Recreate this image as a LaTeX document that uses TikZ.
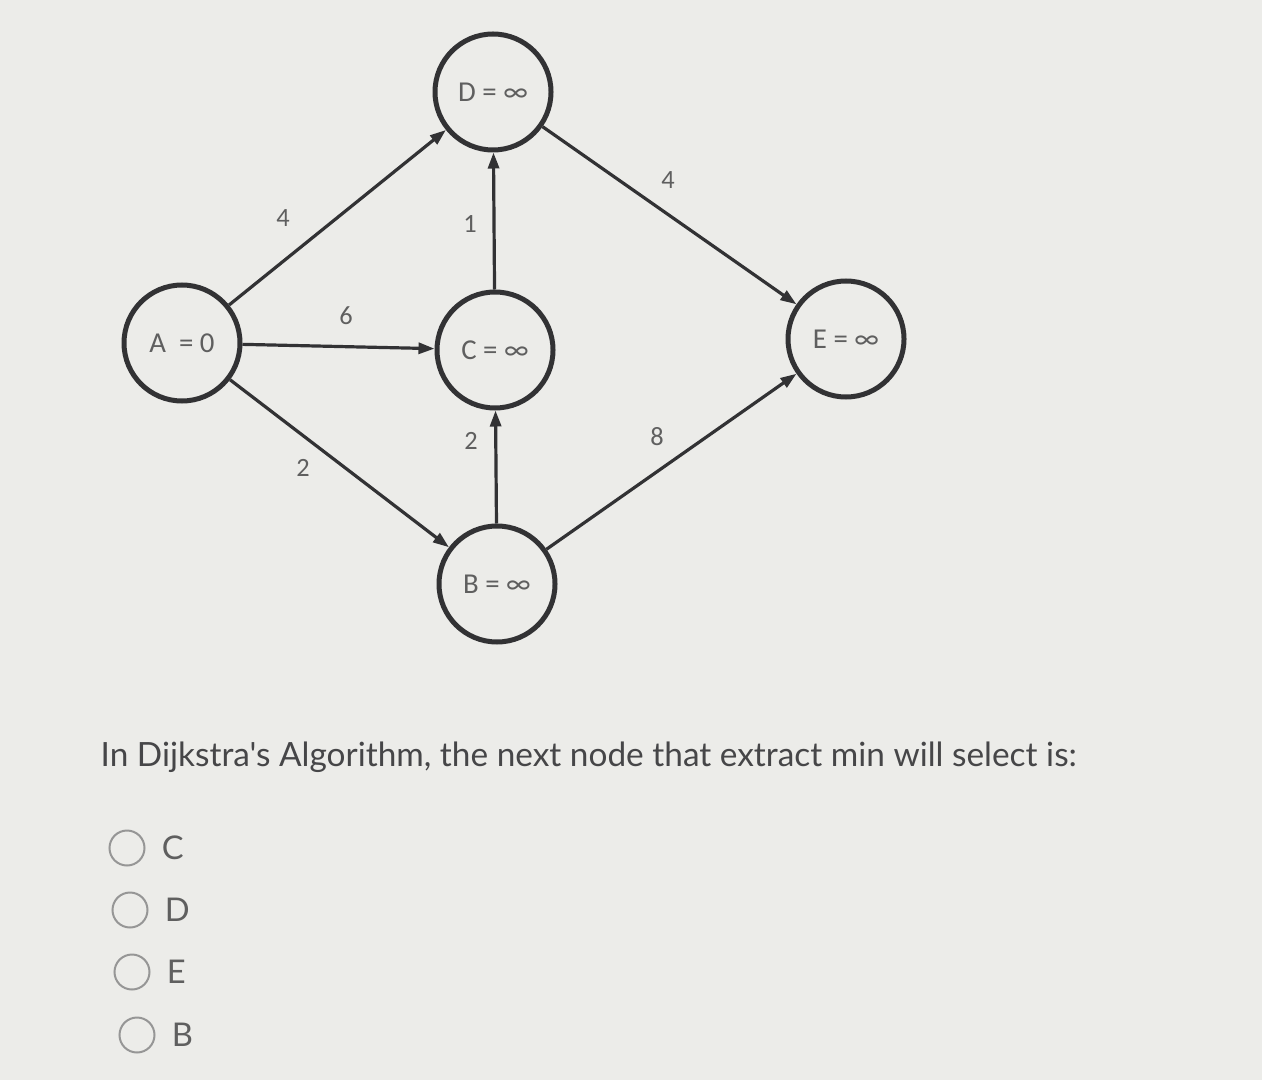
\documentclass[tikz,border=0pt]{standalone}
\usepackage{fontspec}
\setmainfont{Lato}[Ligatures=TeXOff]
\newfontfamily\nodefont{Carlito}
\usetikzlibrary{arrows.meta, positioning}
\definecolor{paper}{RGB}{236, 236, 233}
\definecolor{ink}{RGB}{50, 50, 52}
\definecolor{txt}{RGB}{95, 95, 95}
\definecolor{optgray}{RGB}{150, 150, 150}

\tikzset{
  vertex/.style={circle, draw=ink, line width=0.5mm,
                 minimum size=11.6mm, inner sep=0pt,
                 font=\nodefont\fontsize{8.2}{9}\selectfont, text=txt},
  edge/.style={-{Triangle[length=1.6mm, width=1.1mm]}, draw=ink, line width=0.32mm},
  weight/.style={font=\nodefont\fontsize{7.5}{9}\selectfont, text=txt},
  option/.style={circle, draw=optgray, line width=0.2mm, minimum size=3.5mm, inner sep=0pt},
  optlabel/.style={font=\fontsize{9.3}{11}\selectfont, text=txt, anchor=west}
}

\begin{document}
\begin{tikzpicture}
  % background and frame
  \fill[paper] (0,0) rectangle (12.62,-10.80);
  \useasboundingbox (0,0) rectangle (12.62,-10.80);

  % graph vertices
  \node[vertex] (A) at (1.82,-3.43) {A \ = 0};
  \node[vertex] (D) at (4.93,-0.92) {D = ∞};
  \node[vertex] (C) at (4.95,-3.50) {C = ∞};
  \node[vertex] (B) at (4.97,-5.84) {B = ∞};
  \node[vertex] (E) at (8.46,-3.39) {E = ∞};

  % weighted edges
  \draw[edge] (A) -- (D);
  \draw[edge] (A) -- (C);
  \draw[edge] (A) -- (B);
  \draw[edge] (C) -- (D);
  \draw[edge] (B) -- (C);
  \draw[edge] (D) -- (E);
  \draw[edge] (B) -- (E);

  % edge weights
  \node[weight] (wAD) at (2.83,-2.18) {4};
  \node[weight] (wAC) at (3.46,-3.16) {6};
  \node[weight] (wAB) at (3.03,-4.68) {2};
  \node[weight] (wCD) at (4.70,-2.24) {1};
  \node[weight] (wBC) at (4.71,-4.41) {2};
  \node[weight] (wDE) at (6.68,-1.80) {4};
  \node[weight] (wBE) at (6.57,-4.37) {8};

  % question
  \node[font=\fontsize{9.5}{11}\selectfont, text=ink!90, anchor=west, inner sep=0pt] (question)
    at (1.00,-7.57) {In Dijkstra's Algorithm, the next node that extract min will select is:};

  % answer options
  \node[option] (oC) at (1.27,-8.48) {};
  \node[option] (oD) at (1.30,-9.10) {};
  \node[option] (oE) at (1.32,-9.72) {};
  \node[option] (oB) at (1.37,-10.35) {};
  \node[optlabel, right=0.04 of oC] (lC) {C};
  \node[optlabel, right=0.04 of oD] (lD) {D};
  \node[optlabel, right=0.04 of oE] (lE) {E};
  \node[optlabel, right=0.04 of oB] (lB) {B};
\end{tikzpicture}
\end{document}
